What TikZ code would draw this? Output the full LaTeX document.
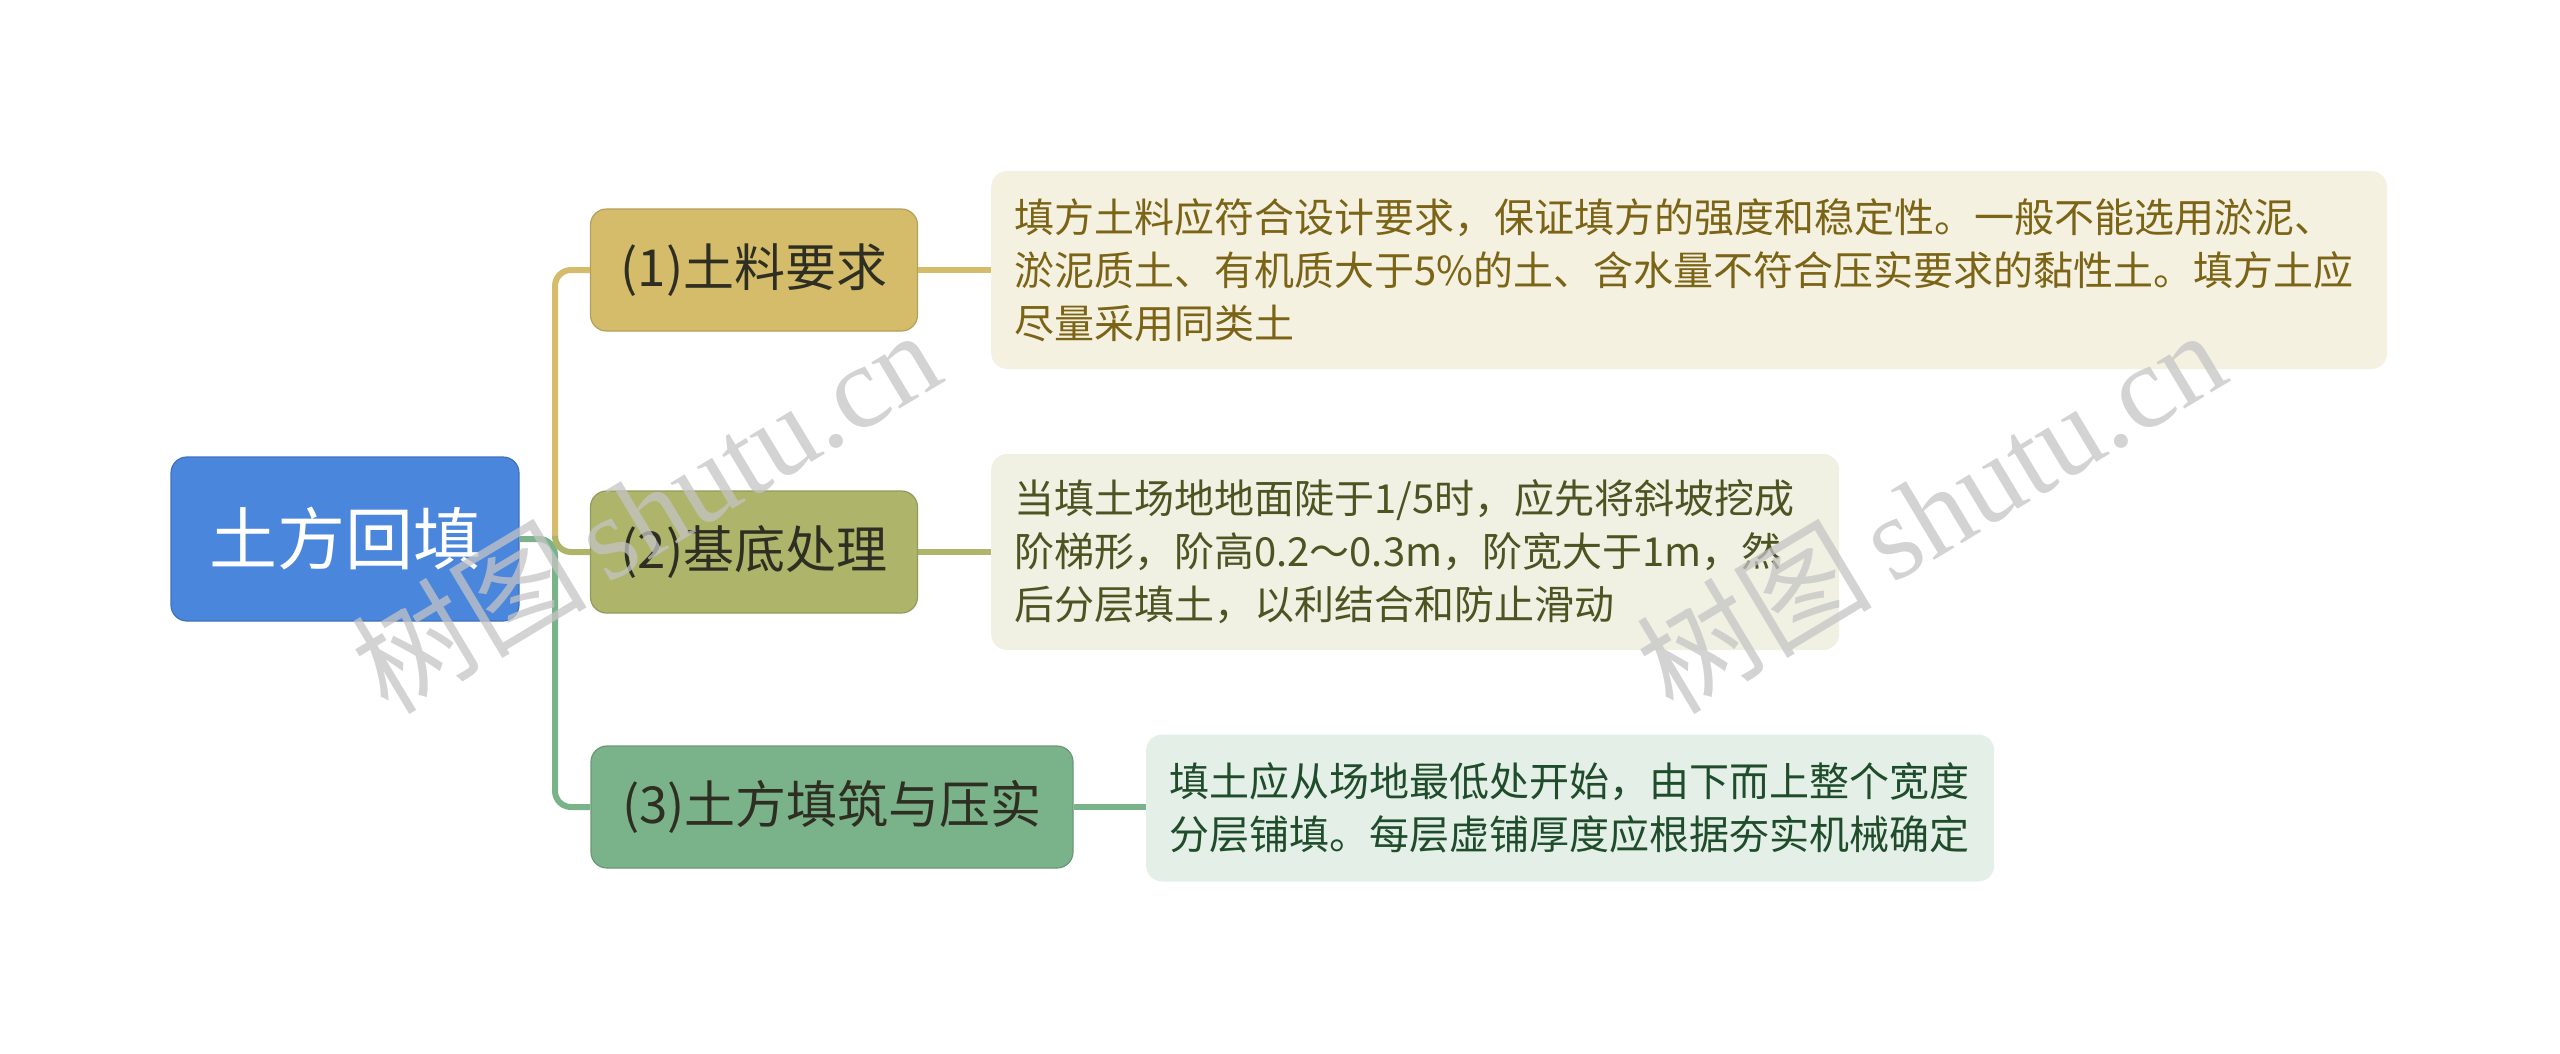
\documentclass[tikz,border=0pt]{standalone}
\usepackage{fontspec}
\setmainfont{Noto Sans CJK SC}
\newfontfamily\wmlatin{Liberation Serif}
\definecolor{rootblue}{HTML}{4A86DC}
\definecolor{gold}{HTML}{D4BC6A}
\definecolor{olive}{HTML}{AEB56B}
\definecolor{sage}{HTML}{7AB38A}
\definecolor{leafA}{HTML}{F5F1E1}
\definecolor{leafB}{HTML}{F0F0E3}
\definecolor{leafC}{HTML}{E4EFE8}
\definecolor{txtA}{HTML}{7B6415}
\definecolor{txtB}{HTML}{4D5321}
\definecolor{txtC}{HTML}{1F4D2B}
\definecolor{darktxt}{HTML}{2E2E22}
\definecolor{wm}{HTML}{C4C4C4}
\tikzset{
  rootbox/.style={rounded corners=16pt, fill=rootblue, draw=rootblue!85!black, line width=1.2pt,
    minimum width=348pt, minimum height=164pt, inner sep=0pt, text=white,
    font=\fontsize{68}{80}\selectfont},
  midbox/.style={rounded corners=16pt, minimum height=122pt, inner sep=0pt, text=darktxt,
    line width=1.2pt, font=\fontsize{51}{60}\selectfont},
  leafbox/.style={rounded corners=16pt, anchor=west, inner xsep=23pt, inner ysep=0pt,
    align=left, font=\fontsize{40}{53}\selectfont},
  link/.style={line width=6pt, rounded corners=16pt},
  wmark/.style={text=wm, opacity=0.75, rotate=31, font=\fontsize{118}{130}\selectfont}
}
\begin{document}
\begin{tikzpicture}[x=1pt, y=-1pt]
\useasboundingbox (0,0) rectangle (2560,1053);
% nodes
\node[rootbox] (root) at (345,539) {土方回填};
\node[midbox, fill=gold, draw=gold!85!black, minimum width=327pt] (n1) at (754,270) {(1)土料要求};
\node[midbox, fill=olive, draw=olive!85!black, minimum width=327pt] (n2) at (754,552) {(2)基底处理};
\node[midbox, fill=sage, draw=sage!85!black, minimum width=482pt] (n3) at (832,807) {(3)土方填筑与压实};
\node[leafbox, fill=leafA, text=txtA, text width=1350pt, minimum height=198pt] (l1) at (991,270)
  {填方土料应符合设计要求，保证填方的强度和稳定性。一般不能选用淤泥、\\
   淤泥质土、有机质大于5\%的土、含水量不符合压实要求的黏性土。填方土应\\
   尽量采用同类土};
\node[leafbox, fill=leafB, text=txtB, text width=802pt, minimum height=196pt] (l2) at (991,552)
  {当填土场地地面陡于1/5时，应先将斜坡挖成\\
   阶梯形，阶高0.2～0.3m，阶宽大于1m，然\\
   后分层填土，以利结合和防止滑动};
\node[leafbox, fill=leafC, text=txtC, text width=802pt, minimum height=147pt] (l3) at (1146,808)
  {填土应从场地最低处开始，由下而上整个宽度\\
   分层铺填。每层虚铺厚度应根据夯实机械确定};
% connectors
\coordinate (trunk) at (555,539);
\draw[link, draw=sage] (root.east) -- (trunk) |- (n3.west);
\draw[link, draw=gold] (trunk) |- (n1.west);
\draw[link, draw=olive] (trunk) |- (n2.west);
\draw[link, draw=gold] (n1.east) -- (l1.west |- n1.east);
\draw[link, draw=olive] (n2.east) -- (l2.west |- n2.east);
\draw[link, draw=sage] (n3.east) -- (l3.west |- n3.east);
% watermarks
\node[wmark] (wm1) at (645,510) {树图\,{\wmlatin shutu.cn}};
\node[wmark] (wm2) at (1930,510) {树图\,{\wmlatin shutu.cn}};
\end{tikzpicture}
\end{document}
